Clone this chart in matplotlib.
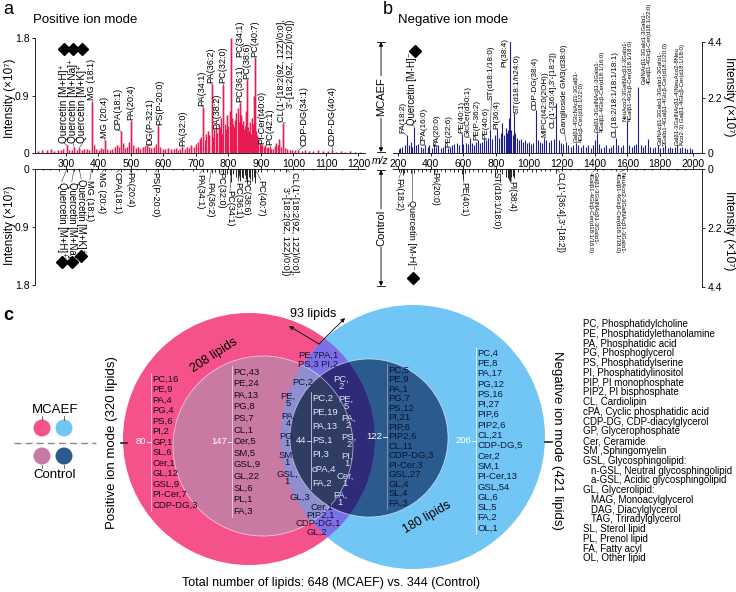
import matplotlib
matplotlib.use('Agg')
import matplotlib.pyplot as plt
from matplotlib.patches import Circle

plt.rcParams['font.family'] = ['Liberation Sans', 'DejaVu Sans']
plt.rcParams['axes.linewidth'] = 0.6

# ---------------- data: panel a (positive ion mode) ----------------
a_mcaef_mz = [215, 228, 241, 255, 263, 277, 284, 291, 303, 309,
              318, 325, 333, 341, 349, 357, 365, 371, 379, 385,
              393, 401, 409, 414, 420, 427, 435, 443, 451, 458,
              463, 469, 475, 482, 489, 494, 501, 507, 515, 521,
              529, 537, 543, 550, 556, 563, 571, 577, 583, 590,
              598, 606, 614, 622, 631, 638, 646, 652, 658, 665,
              672, 680, 686, 693, 700, 705, 711, 717, 722, 727,
              731, 736, 741, 748, 753, 757, 762, 766, 770, 774,
              778, 781, 784, 788, 792, 796, 800, 804, 806, 809,
              812, 815, 818, 821, 824, 828, 831, 834, 837, 840,
              843, 846, 849, 852, 854, 857, 860, 863, 866, 869,
              872, 876, 878, 881, 884, 888, 892, 896, 900, 903,
              908, 913, 918, 923, 927, 932, 937, 942, 947, 952,
              957, 962, 967, 975, 980, 988, 996, 1005, 1015, 1025,
              1035, 1048, 1060, 1075, 1090, 1105, 1118, 1130, 1145, 1160,
              1175, 1190, 1205]
a_mcaef_int = [.03, .05, .04, .06, .03, .05, .04, .07, .12, .05,
               .04, .10, .04, .08, .05, .06, .07, .05, .80, .12,
               .06, .05, .08, .06, .20, .07, .05, .06, .09, .12,
               .10, .34, .15, .08, .10, .18, .50, .12, .08, .10,
               .07, .09, .11, .13, .10, .08, .09, .14, .42, .10,
               .07, .06, .08, .07, .06, .08, .05, .07, .09, .07,
               .10, .08, .12, .10, .14, .18, .22, .25, .72, .20,
               .30, .35, .28, 1.08, .25, .38, .37, .32, .45, .40,
               .55, .30, 1.07, .45, .38, .60, .42, .50, .65, 1.80,
               .55, .45, .40, .52, .62, .70, .48, .55, .78, .60,
               .45, .50, .38, .42, .66, 1.15, .40, .35, .48, .30,
               .55, .45, .90, 1.49, .35, .28, .20, .15, .12, .13,
               .10, .12, .08, .09, .10, .07, .06, .11, .15, .12,
               .22, .10, .47, .08, .06, .05, .04, .05, .04, .03,
               .04, .03, .03, .04, .03, .03, .04, .02, .03, .02,
               .03, .02, .02]
a_ctrl_mz = [230, 250, 280, 303, 325, 341, 379, 395, 420, 440,
             469, 480, 501, 520, 545, 583, 600, 630, 660, 690,
             722, 735, 748, 760, 770, 784, 790, 796, 804, 809,
             815, 822, 828, 832, 837, 842, 846, 850, 854, 857,
             862, 867, 872, 878, 881, 890, 900, 920, 940, 960,
             978, 1000, 1030, 1060, 1100, 1150, 1200]
a_ctrl_int = [.02, .02, .03, .04, .03, .03, .05, .02, .03, .02,
              .05, .02, .06, .02, .03, .04, .02, .02, .02, .03,
              .05, .04, .06, .05, .06, .08, .06, .07, .09, .20,
              .08, .12, .15, .10, .18, .12, .14, .10, .16, .20,
              .12, .15, .18, .12, .22, .05, .04, .03, .03, .03,
              .04, .02, .02, .02, .02, .02, .02]

CL_A = "CL(1'-[18:2(9Z, 12Z)/0:0],\n3'-[18:2(9Z, 12Z)/0:0])"
# name, peak m/z, label m/z, label end height
a_top_labels = [
    ("Quercetin [M+H]⁺", 303, 295, 0.15), ("Quercetin [M+Na]⁺", 325, 323, 0.15),
    ("Quercetin [M+K]⁺", 341, 351, 0.15), ("MG (18:1)", 379, 379, 0.83),
    ("MG (20:4)", 420, 418, 0.23), ("CPA(18:1)", 469, 459, 0.36),
    ("PA(20:4)", 501, 501, 0.52), ("DG(P-32:1)", 550, 558, 0.13),
    ("PS(P-20:0)", 583, 589, 0.44), ("PA(32:0)", 658, 658, 0.11),
    ("PA(34:1)", 722, 719, 0.74), ("PA(36:2)", 748, 745, 1.10),
    ("PA(38:2)", 762, 765, 0.38), ("PC(32:0)", 784, 784, 1.09),
    ("PC(36:1)", 837, 835, 0.80), ("PC(34:1)", None, 835, 1.50),
    ("PC(38:6)", 857, 857, 1.16), ("PC(40:7)", 881, 881, 1.50),
    ("PI-Cer(t40:0)", 903, 903, 0.14), ("PC(42:1)", 927, 927, 0.12),
    (CL_A, 967, 976, 0.48), ("CDP-DG(34:1)", 1015, 1031, 0.11),
    ("CDP-DG(40:4)", 1118, 1118, 0.11)]
a_bot_labels = [
    ("Quercetin [M+H]⁺", 303, 287, 0.20), ("Quercetin [M+Na]⁺", 325, 318, 0.20),
    ("Quercetin [M+K]⁺", 341, 347, 0.15), ("MG (18:1)", 379, 374, 0.17),
    ("MG (20:4)", 420, 411, 0.05), ("CPA(18:1)", 469, 456, 0.05),
    ("PA(20:4)", 501, 497, 0.05), ("PS(P-20:0)", 583, 574, 0.05),
    ("PA(34:1)", 722, 712, 0.07), ("PA(36:2)", 748, 741, 0.20),
    ("PC(32:0)", 784, 776, 0.05), ("PC(34:1)", 809, 805, 0.33),
    ("PC(36:1)", 837, 830, 0.20), ("PC(38:6)", 857, 854, 0.15),
    ("PC(40:7)", 881, 900, 0.17), (CL_A, 978, 989, 0.05)]
a_top_diamonds = [(295, 1.62), (323, 1.62), (351, 1.62)]
a_bot_diamonds = [(287, 1.44), (318, 1.44), (347, 1.35)]

# ---------------- data: panel b (negative ion mode) ----------------
b_mcaef_mz = [205, 215, 227, 241, 253, 265, 279, 288, 301, 311,
              325, 339, 353, 367, 381, 391, 405, 419, 433, 447,
              461, 475, 489, 503, 517, 531, 545, 559, 573, 588,
              600, 614, 628, 637, 650, 662, 675, 688, 700, 712,
              726, 738, 750, 763, 775, 790, 803, 815, 828, 835,
              845, 857, 863, 871, 879, 885, 891, 899, 909, 915,
              927, 939, 951, 963, 975, 987, 999, 1011, 1025, 1041,
              1053, 1065, 1079, 1093, 1105, 1119, 1135, 1150, 1165, 1180,
              1195, 1210, 1226, 1240, 1255, 1270, 1287, 1300, 1315, 1330,
              1345, 1360, 1375, 1390, 1402, 1413, 1425, 1440, 1455, 1470,
              1485, 1500, 1515, 1529, 1545, 1560, 1575, 1595, 1610, 1625,
              1640, 1655, 1665, 1680, 1695, 1710, 1725, 1740, 1755, 1770,
              1785, 1800, 1815, 1830, 1845, 1860, 1875, 1890, 1905, 1920,
              1935, 1950, 1965, 1980, 1995]
b_mcaef_int = [.15, .20, .25, .30, .70, .30, .45, .25, 1.05, .30,
               .35, .25, .20, .30, .25, .30, .20, .35, .25, .30,
               .20, .25, .30, .20, .25, .30, .35, .40, .30, .75,
               .35, .40, .35, .60, .40, .30, .45, .50, .40, .45,
               .55, .50, .60, .90, .55, .70, .95, .60, .80, 1.20,
               .70, 1.00, .80, .90, 1.40, 4.45, .90, .70, 1.57, .80,
               .60, .50, .55, .45, .50, .40, .45, .35, .40, 1.70,
               .50, .45, .40, .60, .50, .45, .50, .55, 2.00, .50,
               .40, .35, .45, .30, .25, .30, .40, .30, .25, .30,
               .25, .30, .20, .30, .50, .80, .35, .20, .25, .30,
               .20, .25, .30, .60, .30, .25, .30, 1.25, .30, .25,
               .30, .35, 2.60, .30, .25, .30, .55, .25, .20, .25,
               .30, .20, .25, .30, .20, .25, .20, .25, .30, .20,
               .25, .20, .15, .20, .15]
b_ctrl_mz = [205, 220, 228, 240, 255, 279, 301, 320, 345, 370,
             395, 419, 440, 465, 490, 515, 540, 565, 590, 600,
             610, 635, 660, 690, 715, 740, 765, 790, 805, 820,
             835, 857, 871, 879, 885, 891, 900, 909, 930, 960,
             990, 1020, 1041, 1070, 1100, 1130, 1165, 1200, 1250, 1300,
             1350, 1413, 1450, 1500, 1529, 1595, 1650, 1700, 1750, 1800,
             1850, 1900, 1950, 2000]
b_ctrl_int = [.10, .12, .22, .15, .10, .15, .15, .08, .10, .08,
              .10, .20, .10, .08, .10, .08, .10, .12, .20, .40,
              .15, .10, .08, .12, .10, .12, .15, .25, .15, .12,
              .20, .30, .35, .40, .50, .30, .25, .35, .12, .10,
              .08, .10, .12, .08, .08, .07, .15, .06, .05, .05,
              .05, .08, .05, .05, .06, .08, .05, .05, .04, .04,
              .04, .04, .04, .03]

G1 = "Galβ1-4GlcNAcβ1-3Galβ1-\n4Glcβ-Cer(d18:1/22:0)"
G2 = "Galβ1-3GalNAcβ1-3Galα1-\n4Galβ1-4Glcβ-Cer(d18:1/16:0)"
G3 = "NeuAcα2-3GalNAcβ1-3Galα1-\n4Galβ1-4Glcβ-Cer(d18:1/18:0)"
G4 = "GalNAcβ1-3Galα1-3Galα1-\n4Galβ1-4Glcβ-Cer(d18:1/22:0)"
G5 = "GalNAcβ1-3Galα1-3Galα1-3Galα1-\n3Galα1-4Galβ1-4Glcβ-Cer(d18:1/20:0)"
G6 = "Galβ1-3GalNAcβ1-4(NeuAcα2-8Neu\nAcα2-3) Galβ1-4Glcβ-Cer(d18:1/18:0)"
b_top_labels = [
    ("FA(18:2)", 253, 232, 0.80), ("Quercetin [M-H]⁻", 301, 285, 1.10),
    ("CPA(16:0)", 367, 361, 0.32), ("PA(20:0)", 433, 438, 0.27),
    ("PE(22:6)", 503, 509, 0.22), ("PE(40:1)", 588, 590, 0.80),
    ("GlcCer(d30:1)", 637, 630, 0.62), ("PE(P-36:2)", 688, 684, 0.52),
    ("PE(40:6)", 726, 735, 0.57), ("ST(d18:1/18:0)", 763, 770, 2.10),
    ("PI(36:4)", 803, 805, 0.97), ("PI(38:4)", None, 850, 3.40),
    ("ST(d18:1/h24:0)", 909, 926, 1.58), ("CDP-DG(38:4)", 1041, 1040, 1.72),
    ("MIPC(t42:0(2OH))", 1093, 1097, 0.62), ("CL(1'-[36:4],3'-[18:2])", None, 1149, 1.00),
    ("Ganglioside GM3(d38:0)", 1226, 1216, 0.80), (G1, 1287, 1306, 0.42),
    (G2, 1413, 1430, 0.82), ("CL(18:2/18:1/18:1/18:1)", 1529, 1525, 0.62),
    (G3, 1595, 1602, 1.25), (G4, None, 1718, 2.75),
    (G5, 1815, 1816, 0.30), (G6, 1905, 1921, 0.30)]
b_bot_labels = [
    ("FA(18:2)", 228, 206, 0.34), ("Quercetin [M-H]⁻", 285, 285, 1.16),
    ("PA(20:0)", 433, 426, 0.11), ("PE(40:1)", 600, 602, 0.50),
    ("ST(d18:1/18:0)", 790, 797, 0.11), ("PI(38:4)", 885, 893, 0.46),
    ("CL(1'-[36:4],3'-[18:2])", 1165, 1188, 0.11), (G2, 1413, 1389, 0.11),
    (G3, 1595, 1554, 0.11)]
b_top_diamonds = [(306, 4.05)]
b_bot_diamonds = [(290, 4.07)]

# ---------------- data: panel c (lipid counts) ----------------
pos_mcaef_cls = ["PC", "PE", "PA", "PG", "PS", "PI", "GP", "SL", "Cer", "GL", "GSL", "PI-Cer", "CDP-DG"]
pos_mcaef_n = [16, 9, 4, 4, 6, 2, 1, 6, 1, 12, 9, 7, 3]
pos_ctrl_cls = ["PC", "PE", "PA", "PG", "PS", "CL", "Cer", "SM", "GSL", "GL", "SL", "PL", "FA"]
pos_ctrl_n = [43, 24, 13, 8, 7, 1, 5, 5, 9, 22, 6, 1, 3]
both_ctrl_cls = ["PC", "PE", "PA", "PS", "PI", "cPA", "FA"]
both_ctrl_n = [2, 19, 13, 1, 3, 4, 2]
posctrl_negmc_cls = ["PC", "PE", "PA", "PG", "SM", "GSL", "GL"]
posctrl_negmc_n = [2, 5, 4, 1, 1, 1, 3]
posmc_negctrl_cls = ["PC", "PE", "PA", "PS", "PI", "Cer", "FA"]
posmc_negctrl_n = [2, 5, 2, 2, 1, 1, 1]
mc_top_cls = ["PE", "PA", "PS", "PI"]
mc_top_n = [7, 1, 3, 2]
mc_bot_cls = ["Cer", "PIP2", "CDP-DG", "GL"]
mc_bot_n = [1, 1, 1, 2]
neg_ctrl_cls = ["PC", "PE", "PA", "PG", "PS", "PI", "PIP", "PIP2", "CL", "CDP-DG", "PI-Cer", "GSL", "GL", "SL", "FA"]
neg_ctrl_n = [5, 9, 1, 7, 12, 21, 6, 6, 11, 3, 3, 27, 4, 4, 3]
neg_mcaef_cls = ["PC", "PE", "PA", "PG", "PS", "PI", "PIP", "PIP2", "CL", "CDP-DG", "Cer", "SM", "PI-Cer", "GSL", "GL", "SL", "FA", "OL"]
neg_mcaef_n = [4, 8, 17, 12, 16, 27, 6, 6, 21, 5, 2, 1, 13, 54, 6, 5, 2, 1]
totals = {"pos": 320, "neg": 421, "mcaef": 648, "ctrl": 344, "ring_pos": 208, "ring_neg": 180, "shared": 93}
abbrev = ["PC, Phosphatidylcholine", "PE, Phosphatidylethanolamine", "PA, Phosphatidic acid",
          "PG, Phosphoglycerol", "PS, Phosphatidylserine", "PI, Phosphatidylinositol",
          "PIP, PI monophosphate", "PIP2, PI bisphosphate", "CL, Cardiolipin",
          "cPA, Cyclic phosphatidic acid", "CDP-DG, CDP-diacylglycerol", "GP, Glycerophosphate",
          "Cer, Ceramide", "SM ,Sphingomyelin", "GSL, Glycosphingolipid:",
          " n-GSL, Neutral glycosphingolipid", " a-GSL, Acidic glycosphingolipid",
          "GL, Glycerolipid:", " MAG, Monoacylglycerol", " DAG, Diacylglycerol",
          " TAG, Triradylglycerol", "SL, Sterol lipid", "PL, Prenol lipid",
          "FA, Fatty acyl", "OL, Other lipid"]

# ---------------- figure ----------------
W, H = 736, 592
fig = plt.figure(figsize=(W / 100, H / 100), dpi=100)
ov = fig.add_axes([0, 0, 1, 1])
ov.set_xlim(0, W)
ov.set_ylim(H, 0)
ov.axis('off')


def rect(x0, y0, x1, y1):
    return [x0 / W, 1 - y1 / H, (x1 - x0) / W, (y1 - y0) / H]


def style(ax, left=True, top=False):
    for s in ['left', 'right', 'top', 'bottom']:
        ax.spines[s].set_visible(False)
    ax.spines['left' if left else 'right'].set_visible(True)
    ax.spines['top' if top else 'bottom'].set_visible(True)
    ax.patch.set_alpha(0)
    ax.tick_params(direction='out', length=2.5, width=0.6, pad=1.5, labelsize=7.5)
    if not left:
        ax.yaxis.tick_right()
    if top:
        ax.xaxis.tick_top()
        ax.tick_params(axis='x', labeltop=False, labelbottom=False)


def labels(ax, items, rot, fs, small_fs=4.3, cl_fs=6.6, q_fs=None, peak_h=None, mz=None):
    for name, pk, tx, ty in items:
        if '\n' in name and 'CL' not in name:
            f = small_fs
        elif name.startswith('CL'):
            f = cl_fs
        elif name.startswith('Quercetin') and q_fs:
            f = q_fs
        else:
            f = fs
        ma = 'right' if name.startswith('CL(1\'-[18') else 'left'
        va = 'bottom' if rot == 90 else 'top'
        ax.text(tx, ty, name, rotation=rot, ha='center', va=va, fontsize=f,
                multialignment=ma, linespacing=1.0, clip_on=False)
        if pk is not None:
            y0 = 0
            if rot == 90:
                y0 = peak_h[mz.index(pk)] if pk in mz else 0
            ax.plot([pk, tx], [y0, ty], color='#333333', lw=0.4, clip_on=False)


# panel a top
pink = '#E8174F'
axA1 = fig.add_axes(rect(35, 38, 365, 153))
style(axA1, left=True, top=False)
axA1.vlines(a_mcaef_mz, 0, a_mcaef_int, color='#F7A6BC', lw=2.0)
axA1.vlines(a_mcaef_mz, 0, a_mcaef_int, color=pink, lw=0.7)
axA1.set_xlim(205, 1220)
axA1.set_ylim(0, 1.8)
axA1.set_yticks([0, 0.9, 1.8], ['0', '0.9', '1.8'])
axA1.set_xticks(range(300, 1201, 100))
labels(axA1, a_top_labels, 90, 6.6, q_fs=7.2, peak_h=a_mcaef_int, mz=a_mcaef_mz)
for x, y in a_top_diamonds:
    axA1.plot(x, y, marker='D', ms=6.3, color='k', clip_on=False)

# panel a bottom
axA2 = fig.add_axes(rect(35, 169, 365, 285))
style(axA2, left=True, top=True)
axA2.vlines(a_ctrl_mz, 0, a_ctrl_int, color='#222222', lw=0.7)
axA2.set_xlim(205, 1220)
axA2.set_ylim(1.8, 0)
axA2.set_yticks([0, 0.9, 1.8], ['0', '0.9', '1.8'])
axA2.set_xticks(range(300, 1201, 100))
labels(axA2, a_bot_labels, 270, 6.6, q_fs=6.9)
for x, y in a_bot_diamonds:
    axA2.plot(x, y, marker='D', ms=6.3, color='k', clip_on=False)

# panel b top
navy = '#1E1E8C'
axB1 = fig.add_axes(rect(393, 42, 702, 153))
style(axB1, left=False, top=False)
axB1.vlines(b_mcaef_mz, 0, b_mcaef_int, color=navy, lw=0.8)
axB1.set_xlim(170, 2055)
axB1.set_ylim(0, 4.4)
axB1.set_yticks([0, 2.2, 4.4], ['0', '2.2', '4.4'])
axB1.set_xticks(range(200, 2001, 200))
labels(axB1, b_top_labels, 90, 5.9, cl_fs=5.9, q_fs=6.9, peak_h=b_mcaef_int, mz=b_mcaef_mz)
for x, y in b_top_diamonds:
    axB1.plot(x, y, marker='D', ms=6.3, color='k', clip_on=False)

# panel b bottom
axB2 = fig.add_axes(rect(393, 169, 702, 287))
style(axB2, left=False, top=True)
axB2.vlines(b_ctrl_mz, 0, b_ctrl_int, color='#222222', lw=0.7)
axB2.set_xlim(170, 2055)
axB2.set_ylim(4.4, 0)
axB2.set_yticks([0, 2.2, 4.4], ['0', '2.2', '4.4'])
axB2.set_xticks(range(200, 2001, 200))
labels(axB2, b_bot_labels, 270, 6.2, cl_fs=6.2, q_fs=6.6)
for x, y in b_bot_diamonds:
    axB2.plot(x, y, marker='D', ms=6.3, color='k', clip_on=False)

# panel titles / axis labels
ov.text(3, 10, 'a', fontsize=13, va='center', ha='left')
ov.text(383, 10, 'b', fontsize=13, va='center', ha='left')
ov.text(3, 316, 'c', fontsize=13, va='center', ha='left', fontweight='bold')
ov.text(33, 20, 'Positive ion mode', fontsize=9.5, va='center', ha='left')
ov.text(398, 20, 'Negative ion mode', fontsize=9.5, va='center', ha='left')
ylab = 'Intensity (×10⁷)'
ov.text(10, 98, ylab, rotation=90, fontsize=8.5, ha='center', va='center')
ov.text(10, 225, ylab, rotation=90, fontsize=8.5, ha='center', va='center')
ov.text(729, 97, ylab, rotation=270, fontsize=8.5, ha='center', va='center')
ov.text(729, 231, ylab, rotation=270, fontsize=8.5, ha='center', va='center')
ov.text(380, 161, 'm/z', fontstyle='italic', fontsize=7.5, ha='center', va='center')
for (y0, y1, t) in [(42, 152, 'MCAEF'), (170, 286, 'Control')]:
    ov.annotate('', xy=(381, y0), xytext=(381, y1),
                arrowprops=dict(arrowstyle='<|-|>', color='k', lw=0.6, mutation_scale=6,
                                shrinkA=0, shrinkB=0))
    for yy in (y0, y1):
        ov.plot([377, 385], [yy, yy], color='k', lw=0.6)
    ov.text(381, (y0 + y1) / 2, t, rotation=90, fontsize=8, ha='center', va='center',
            bbox=dict(facecolor='white', edgecolor='none', pad=1))

# ---------------- panel c: circles ----------------
C_PINK, C_MAUVE, C_LBLUE, C_DBLUE = '#F5528B', '#C97AA3', '#72C6F5', '#2B5A8E'
C_PURPLE, C_PERI, C_INDIGO, C_SLATE = '#7C70E8', '#8E8FD0', '#2E2B78', '#2F3C63'
pos_out = ((249, 439), 126)
neg_out = ((413, 437), 132)
pos_in = ((263, 446), 90)
neg_in = ((369, 438), 79)


def circ(geom, color, z, clip=None, ec='none', lw=0):
    c = Circle(geom[0], geom[1], facecolor=color, edgecolor=ec, lw=lw, zorder=z)
    ov.add_patch(c)
    if clip is not None:
        c.set_clip_path(clip)
    return c

p_out = circ(pos_out, C_PINK, 1)
n_out = circ(neg_out, C_LBLUE, 1)
p_in = circ(pos_in, C_MAUVE, 2)
n_in = circ(neg_in, C_DBLUE, 2)
circ(neg_out, C_PURPLE, 3, clip=p_out)
circ(pos_in, C_PERI, 4, clip=n_out)
circ(neg_in, C_INDIGO, 5, clip=p_out)
circ(neg_in, C_SLATE, 6, clip=p_in)
for g in (pos_in, neg_in):
    ov.add_patch(Circle(g[0], g[1], facecolor='none', edgecolor='white', lw=0.6, alpha=0.6, zorder=7))

FS = 6.8


def column(cls, n, x, y0, y1, color, total, tcolor='white', line_col='#f0e0ea'):
    k = len(cls)
    step = (y1 - y0) / (k - 1)
    for i, (c, v) in enumerate(zip(cls, n)):
        ov.text(x + 1.5, y0 + i * step, f'{c},{v}', fontsize=FS, color=color, ha='left', va='center', zorder=10)
    ov.plot([x, x], [y0 - 6, y1 + 6], color=line_col, lw=0.6, zorder=9)
    ymid = (y0 + y1) / 2
    ov.plot([x - 4, x], [ymid, ymid], color=tcolor, lw=0.6, zorder=9)
    ov.text(x - 4.5, ymid, str(total), fontsize=FS, color=tcolor, ha='right', va='center', zorder=10)

column(pos_mcaef_cls, pos_mcaef_n, 151, 379, 505, '#1a0a14', sum(pos_mcaef_n), line_col='#f7c8d8')
column(pos_ctrl_cls, pos_ctrl_n, 232, 372, 511, '#1a0a14', sum(pos_ctrl_n), line_col='#f0d8e6')
column(both_ctrl_cls, both_ctrl_n, 310.5, 398, 483, '#e4e8f4', sum(both_ctrl_n), tcolor='#e4e8f4', line_col='#c8cce0')
column(neg_ctrl_cls, neg_ctrl_n, 387, 370, 503, '#0a1530', sum(neg_ctrl_n), line_col='#8aa0c0')
column(neg_mcaef_cls, neg_mcaef_n, 476, 353, 528, '#0a1a3a', sum(neg_mcaef_n), line_col='#e0f2fc')

peri_pos = [(288, 400), (288, 420), (287, 440), (287, 459), (287, 478)]
for (x, y), c, v in zip(peri_pos, posctrl_negmc_cls[1:6], posctrl_negmc_n[1:6]):
    ov.text(x, y, f'{c},\n{v}', fontsize=FS, color='#15153a', ha='center', va='center', linespacing=0.8, zorder=10)
ov.text(303, 382, f'{posctrl_negmc_cls[0]},{posctrl_negmc_n[0]}', fontsize=FS, color='#15153a', ha='center', va='center', zorder=10)
ov.text(300, 497, f'{posctrl_negmc_cls[6]},{posctrl_negmc_n[6]}', fontsize=FS, color='#15153a', ha='center', va='center', zorder=10)

ind_pos = [(341, 383), (346, 403), (348, 422), (349, 441), (347, 460), (345, 480), (340, 499)]
for (x, y), c, v in zip(ind_pos, posmc_negctrl_cls, posmc_negctrl_n):
    ov.text(x, y, f'{c},\n{v}', fontsize=FS, color='#dcdcf4', ha='center', va='center', linespacing=0.8, zorder=10)

ov.text(318, 355, f'{mc_top_cls[0]},{mc_top_n[0]}{mc_top_cls[1]},{mc_top_n[1]}', fontsize=FS, color='#15153a', ha='center', va='center', zorder=10)
ov.text(318, 364, f'{mc_top_cls[2]},{mc_top_n[2]} {mc_top_cls[3]},{mc_top_n[3]}', fontsize=FS, color='#15153a', ha='center', va='center', zorder=10)
bot_pos = [(322, 507), (320, 515), (318, 523), (317, 532)]
bot_col = ['#15102a', '#15153a', '#3a0a28', '#15153a']
for (x, y), c, v, col in zip(bot_pos, mc_bot_cls, mc_bot_n, bot_col):
    ov.text(x, y, f'{c},{v}', fontsize=FS, color=col, ha='center', va='center', zorder=10)

ov.text(214, 355, f"{totals['ring_pos']} lipids", fontsize=9, rotation=33, ha='center', va='center', zorder=10)
ov.text(427, 517, f"{totals['ring_neg']} lipids", fontsize=9, rotation=30, ha='center', va='center', zorder=10)
ov.text(313, 314, f"{totals['shared']} lipids", fontsize=9, ha='center', va='center', zorder=10)
for tgt in [(289, 326), (345, 318)]:
    ann = ov.annotate('', xy=tgt, xytext=(319, 344),
                      arrowprops=dict(arrowstyle='-|>', color='k', lw=0.6, mutation_scale=6,
                                      shrinkA=0, shrinkB=0))
    ann.set_zorder(12)
    ann.arrow_patch.set_zorder(12)

ov.text(112, 443, f"Positive ion mode ({totals['pos']} lipids)", rotation=90, fontsize=9.5, ha='center', va='center')
ov.plot([121, 127], [443, 443], color='#222222', lw=1.2)
ov.text(557, 440, f"Negative ion mode ({totals['neg']} lipids)", rotation=270, fontsize=9.5, ha='center', va='center')
ov.plot([545, 552], [442, 442], color='#222222', lw=1.2)
ov.text(331, 583, f"Total number of lipids: {totals['mcaef']} (MCAEF) vs. {totals['ctrl']} (Control)",
        fontsize=9, ha='center', va='center')

# legend
ov.text(55, 410, 'MCAEF', fontsize=9.5, ha='center', va='center')
ov.text(55, 475, 'Control', fontsize=9.5, ha='center', va='center')
for x, c1, c2 in [(42, C_PINK, C_MAUVE), (64, C_LBLUE, C_DBLUE)]:
    ov.add_patch(Circle((x, 428), 8.5, facecolor=c1, edgecolor='none'))
    ov.add_patch(Circle((x, 456), 8.5, facecolor=c2, edgecolor='none'))
    ov.plot([x, x], [416, 420], color='#555555', lw=0.6)
    ov.plot([x, x], [464.5, 468], color='#555555', lw=0.6)
ov.plot([14, 96], [443, 443], color='#888888', lw=1.0, ls=(0, (5, 3)))

# abbreviations
for i, t in enumerate(abbrev):
    ind = 8 if t.startswith(' ') else 0
    ov.text(583 + ind, 324 + i * 9.77, t.strip(), fontsize=7, ha='left', va='center')

fig.savefig('out.png', dpi=100)
